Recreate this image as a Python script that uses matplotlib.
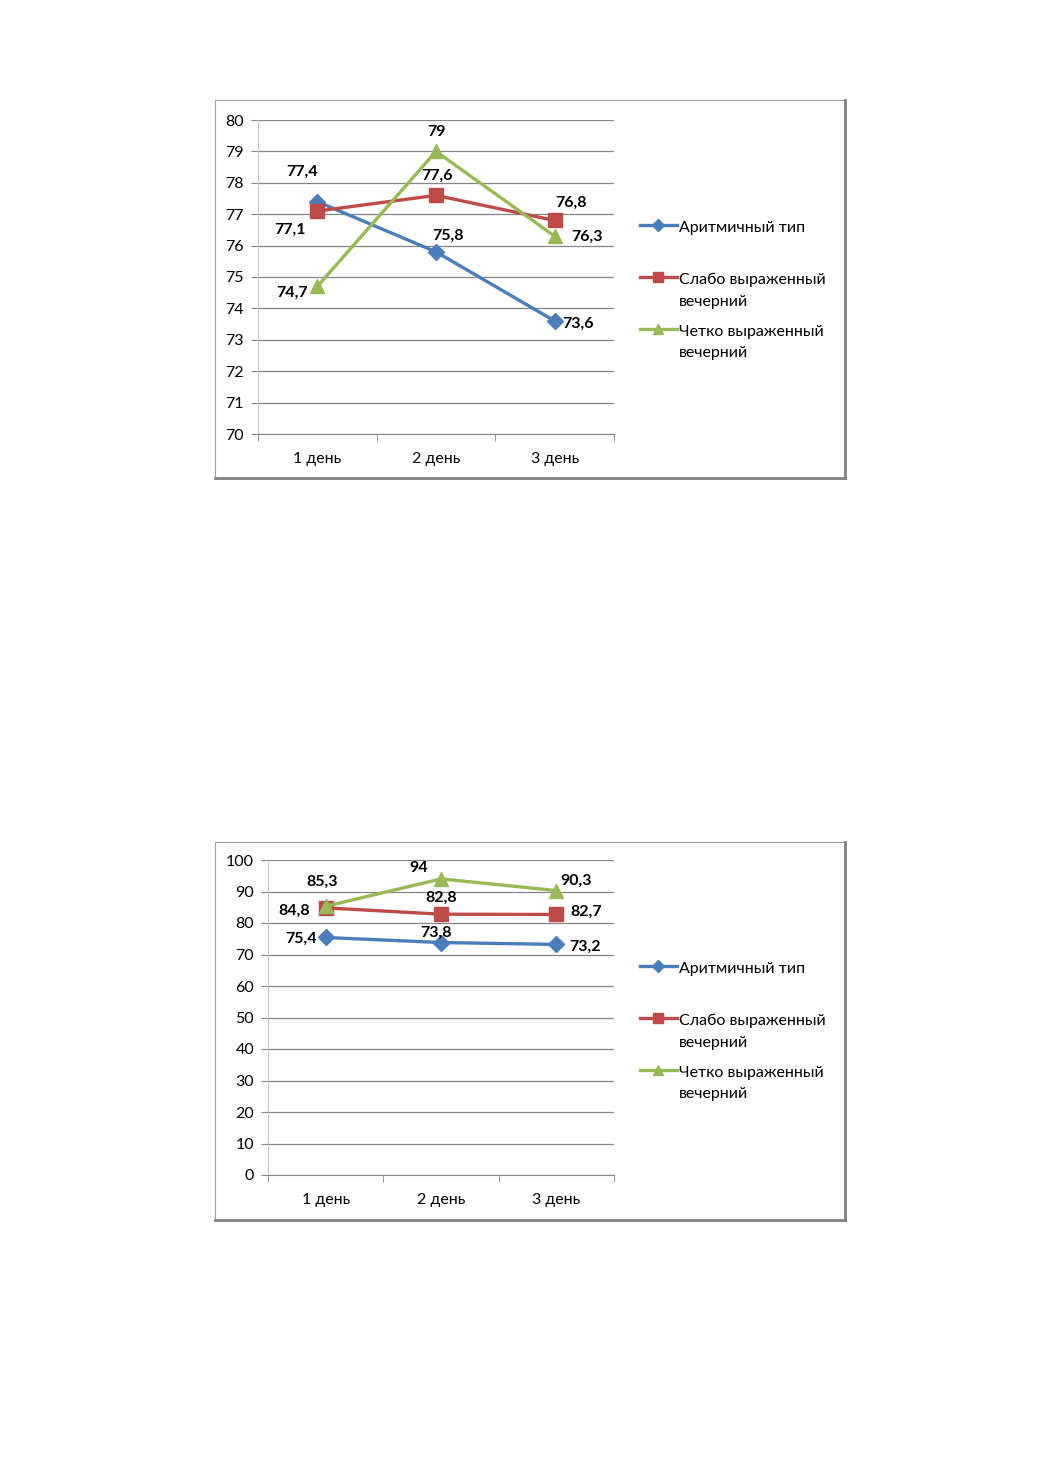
import numpy as np
import matplotlib.pyplot as plt
from matplotlib.patches import Rectangle
from matplotlib.lines import Line2D
from matplotlib.legend_handler import HandlerLine2D

plt.rcParams['font.family'] = ['Lato', 'DejaVu Sans']

days = ["1 день", "2 день", "3 день"]
series_names = ["Аритмичный тип", "Слабо выраженный\nвечерний", "Четко выраженный\nвечерний"]

# chart 1
arr_1 = [77.4, 75.8, 73.6]
weak_1 = [77.1, 77.6, 76.8]
strong_1 = [74.7, 79.0, 76.3]
# chart 2
arr_2 = [75.4, 73.8, 73.2]
weak_2 = [84.8, 82.8, 82.7]
strong_2 = [85.3, 94.0, 90.3]

colors = ["#4a7ebb", "#be4b48", "#98b954"]
markers = ["D", "s", "^"]
msizes = [8.5, 9.5, 9.5]

# label offsets in pixels, per series per point
offs_1 = [[(-15, 30), (12, 16), (23, -3)],
          [(-27, -19), (1, 20), (16, 18)],
          [(-25, -6), (0, 19), (32, -1)]]
offs_2 = [[(-25, -1), (-5, 10), (29, -2)],
          [(-31, -3), (0, 16), (30, 3)],
          [(-4, 25), (-22, 11), (20, 10)]]

W, H = 1040, 1473
LEG_FS = 11.5
fig = plt.figure(figsize=(W / 100, H / 100), dpi=100)


class FirstLineHandler(HandlerLine2D):
    # put the legend line next to the first text line, like Excel does
    def create_artists(self, legend, orig_handle, xdescent, ydescent, width, height, fontsize, trans):
        arts = super().create_artists(legend, orig_handle, xdescent, ydescent, width, height, fontsize, trans)
        for a in arts:
            a.set_ydata(np.asarray(a.get_ydata(), dtype=float) + 0.84 * fontsize)
        return arts


def box(x0, y0, x1, y1):
    fig.patches.append(Rectangle((x0 / W, 1 - y1 / H), (x1 - x0) / W, (y1 - y0) / H,
                                 transform=fig.transFigure, fill=False,
                                 edgecolor="#a0a0a0", lw=0.8))
    fig.add_artist(Line2D([x1 / W, x1 / W], [1 - y1 / H, 1 - y0 / H], color="#808080", lw=2.0))
    fig.add_artist(Line2D([x0 / W, x1 / W], [1 - y1 / H, 1 - y1 / H], color="#808080", lw=2.0))


def chart(rect, data, offs, ymin, ymax, step, leg_y):
    ax = fig.add_axes(rect)
    xs = [0.5, 1.5, 2.5]
    handles = []
    for vals, c, m, ms, off, name in zip(data, colors, markers, msizes, offs, series_names):
        h, = ax.plot(xs, vals, color=c, lw=2.4, marker=m, ms=ms, mec=c, label=name, zorder=3)
        handles.append(h)
        for x, v, o in zip(xs, vals, off):
            ax.annotate(f"{v:g}".replace(".", ","), (x, v), xytext=o, textcoords="offset pixels",
                        ha="center", va="center", fontsize=11.5, fontweight="bold", zorder=4)
    ax.set_xlim(0, 3)
    ax.set_ylim(ymin, ymax)
    ax.set_yticks(range(ymin, ymax + 1, step))
    ax.set_xticks(xs)
    ax.set_xticklabels(days)
    ax.set_xticks([0, 1, 2, 3], minor=True)
    ax.tick_params(axis="x", which="major", length=0, pad=13, labelsize=11.5)
    ax.tick_params(axis="x", which="minor", length=5, color="#868686", direction="out")
    ax.tick_params(axis="y", length=5, color="#868686", labelsize=11.5, pad=5)
    ax.grid(axis="y", color="#868686", lw=0.9)
    ax.set_axisbelow(True)
    for s in ["top", "right"]:
        ax.spines[s].set_visible(False)
    ax.spines["left"].set_color("#c8c8c8")
    ax.spines["bottom"].set_color("#868686")
    labels = [n if "\n" in n else n + "\n" for n in series_names]
    leg = ax.legend(handles=handles, labels=labels, loc="upper left",
                    bbox_to_anchor=(632 / W, 1 - leg_y / H), bbox_transform=fig.transFigure,
                    frameon=False, fontsize=LEG_FS, borderpad=0, handlelength=2.3,
                    handletextpad=0.15, labelspacing=1.0, markerscale=0.75,
                    handler_map={Line2D: FirstLineHandler()})
    for t in leg.get_texts():
        t.set_linespacing(1.7)
    return ax


box(215, 100, 845, 478)
chart([258 / W, 1 - 434 / H, 356 / W, 314 / H], [arr_1, weak_1, strong_1], offs_1, 70, 80, 1, 213)

box(215, 842, 845, 1220)
chart([268 / W, 1 - 1175 / H, 346 / W, 315 / H], [arr_2, weak_2, strong_2], offs_2, 0, 100, 10, 954)

fig.savefig("out.png", dpi=100, facecolor="white")
